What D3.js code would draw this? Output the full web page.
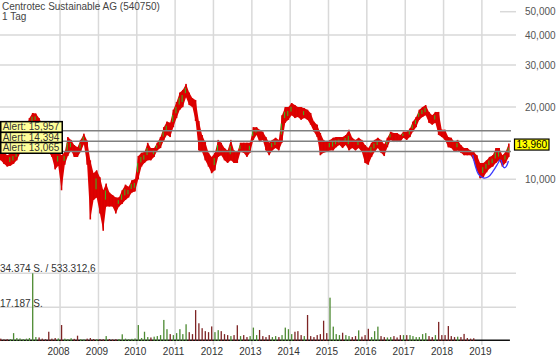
<!DOCTYPE html>
<html>
<head>
<meta charset="utf-8">
<script src="https://cdn.jsdelivr.net/npm/d3@7"></script>
<style>
  body { margin: 0; background: #fff; }
  svg { display: block; font-family: "Liberation Sans", Arial, sans-serif; }
</style>
</head>
<body>
<div id="chart"></div>
<script>
// ===== data (monthly, Jun 2006 - Sep 2019) =====
var priceHigh = [
  13.6, 13.0, 12.6, 12.8, 12.9, 13.4, 14.4,                          // 2006 Jun-Dec
  15.5, 16.5, 18.0, 18.9, 18.8, 18.0, 17.0, 15.8, 14.8, 13.6, 13.0, 13.0, // 2007
  12.6, 13.0, 15.0, 14.6, 13.9, 13.6, 14.6, 15.5, 14.5, 12.0, 10.6, 10.9, // 2008
  10.2, 9.0, 9.6, 8.8, 8.6, 8.4, 8.4, 9.0, 9.5, 9.3, 9.9, 10.0,        // 2009
  12.5, 12.9, 13.0, 14.2, 13.5, 13.5, 14.2, 15.0, 16.5, 17.4, 17.2, 19.5, // 2010
  21.0, 23.0, 23.6, 25.0, 23.0, 21.8, 21.4, 17.5, 15.3, 14.3, 12.9, 12.4, // 2011
  12.9, 14.6, 14.2, 13.5, 13.2, 14.6, 13.2, 13.0, 14.2, 14.2, 14.2, 14.2, // 2012
  16.5, 16.5, 16.1, 15.8, 15.0, 14.2, 14.6, 14.9, 14.6, 18.5, 20.0, 20.0, // 2013
  20.8, 20.4, 20.0, 20.0, 19.8, 19.5, 18.9, 17.4, 16.9, 15.6, 14.6, 14.3, // 2014
  14.6, 14.9, 15.0, 15.0, 15.0, 15.3, 16.1, 14.9, 14.6, 14.9, 14.6, 13.9, // 2015
  13.5, 14.2, 14.6, 14.9, 14.6, 14.0, 14.9, 15.8, 15.6, 15.6, 15.3, 15.8, // 2016
  15.8, 16.3, 17.4, 18.2, 19.5, 20.0, 20.4, 19.1, 18.5, 19.1, 19.1, 16.1, // 2017
  16.1, 15.0, 14.9, 14.3, 14.6, 13.9, 13.5, 13.5, 13.2, 13.0, 12.6, 11.7, // 2018
  11.7, 12.0, 12.4, 12.6, 13.5, 13.5, 12.6, 13.0, 14.1                  // 2019 Jan-Sep
];
var priceLow = [
  12.0, 11.6, 11.3, 11.4, 11.6, 12.0, 12.8,
  13.5, 14.5, 15.5, 16.8, 17.2, 16.0, 15.0, 13.8, 13.0, 12.4, 11.0, 11.4,
  9.0, 11.5, 12.5, 13.2, 12.4, 12.4, 13.0, 14.0, 11.5, 6.8, 8.2, 8.4,
  7.2, 6.1, 7.7, 7.7, 7.7, 7.2, 7.7, 7.9, 8.2, 8.4, 8.8, 8.9,
  10.0, 11.3, 11.7, 12.0, 12.0, 12.4, 13.2, 13.5, 14.5, 15.3, 15.0, 16.5,
  18.0, 19.5, 20.0, 22.0, 20.4, 20.0, 17.5, 13.2, 13.0, 12.0, 11.3, 10.6,
  10.9, 12.4, 12.6, 12.0, 11.7, 12.0, 11.7, 11.7, 13.0, 12.9, 12.4, 12.9,
  14.6, 15.3, 14.3, 14.6, 13.2, 12.6, 13.2, 13.5, 13.2, 14.2, 17.2, 17.7,
  18.5, 18.0, 18.2, 17.7, 18.0, 17.7, 16.9, 15.8, 15.0, 12.6, 12.9, 13.0,
  13.2, 13.2, 13.6, 13.9, 13.5, 13.9, 13.2, 13.5, 13.2, 13.5, 13.0, 11.7,
  11.5, 12.4, 13.0, 13.5, 12.9, 12.5, 13.6, 14.6, 14.3, 14.3, 14.3, 14.9,
  14.6, 15.0, 15.8, 16.5, 17.7, 18.2, 18.5, 17.2, 16.9, 17.2, 15.3, 15.0,
  14.6, 13.6, 13.5, 13.0, 13.2, 12.9, 12.6, 12.6, 12.6, 12.0, 10.9, 10.1,
  10.2, 10.7, 11.1, 11.3, 11.7, 12.0, 11.3, 11.7, 12.4
];
// highest daily volume per month (shares)
var volume = [
  1200, 800, 900, 1000, 4000, 1500, 1300,
  1000, 1200, 1500, 34374, 2000, 1800, 1200, 900, 4700, 1200, 1500, 1300,
  8100, 1200, 1000, 1400, 1100, 2700, 900, 800, 1200, 1500, 1000, 900,
  1000, 900, 2500, 1000, 800, 900, 1000, 3400, 1200, 900, 1100, 1300,
  8100, 1500, 4700, 2000, 1800, 2200, 2500, 3000, 10700, 6000, 3500, 3000,
  4000, 6000, 3500, 8500, 4500, 3500, 15700, 9000, 6500, 5000, 4500, 7400,
  4500, 5500, 5000, 3500, 3000, 2500, 3000, 8000, 2500, 3000, 2000, 2500,
  6800, 3000, 5600, 2500, 2000, 3000, 2000, 2500, 2000, 3000, 6800, 6000,
  3500, 4700, 5000, 3000, 2500, 13200, 2500, 2000, 3000, 3500, 10300, 4000,
  22000, 7300, 3500, 3000, 4200, 3000, 2500, 2000, 2500, 5400, 2200, 3000,
  6200, 2000, 5000, 7300, 2500, 2000, 1800, 2000, 2500, 1800, 3000, 3000,
  3000, 3000, 2500, 2000, 2000, 3500, 4000, 2500, 2000, 3000, 9700, 3000,
  3000, 7600, 2500, 2000, 2200, 2000, 3600, 1500, 1200, 1400, 0, 0,
  0, 0, 0, 0, 0, 0, 0, 0, 0
];
var yearTicks = [2008, 2009, 2010, 2011, 2012, 2013, 2014, 2015, 2016, 2017, 2018, 2019];
var priceTicks = [10, 20, 30, 40, 50];
var alerts = [15.957, 14.394, 13.065];
var lastPrice = 13.96;
// cup and handle drawing (date, price)
var cupPoints = [
  ["2018-10-06", 12.63], ["2018-10-28", 11.47], ["2018-11-29", 10.52], ["2019-01-15", 10.13],
  ["2019-03-04", 10.25], ["2019-04-21", 10.86], ["2019-05-29", 11.55], ["2019-06-24", 12.12]
];
var handlePoints = [
  ["2019-07-03", 12.04], ["2019-08-01", 11.18], ["2019-08-20", 11.29], ["2019-09-11", 11.92]
];
var volMax = 34374;

// ===== setup =====
var width = 560, height = 362;
var plotRight = 516;
var fmt = function(v) { return d3.format(",.3f")(v).replace(".", ","); };

var svg = d3.select("#chart").append("svg")
  .attr("width", width)
  .attr("height", height);

var x = d3.scaleTime()
  .domain([new Date(2006, 5, 8), new Date(2019, 10, 22)])
  .range([0, plotRight]);
var y = d3.scaleLog()
  .domain([10, 50])
  .range([179.3, 11.7]);
var yVol = d3.scaleLinear()
  .domain([0, volMax])
  .range([341, 273.3]);

var months = priceHigh.map(function(d, i) { return new Date(2006, 5 + i, 15); });
var idx = d3.range(priceHigh.length);
var parse = d3.timeParse("%Y-%m-%d");

// ===== grid =====
var grid = svg.append("g").attr("stroke", "#d9d9d9").attr("stroke-width", 1.5);
grid.selectAll(".vg").data(yearTicks).enter().append("line")
  .attr("x1", d => x(new Date(d, 0, 1))).attr("x2", d => x(new Date(d, 0, 1)))
  .attr("y1", 0).attr("y2", 345);
grid.selectAll(".hg").data(priceTicks).enter().append("line")
  .attr("x1", d => d == 50 ? 500 : 0).attr("x2", plotRight)
  .attr("y1", d => y(d)).attr("y2", d => y(d));
grid.selectAll(".vol").data([volMax / 2, volMax]).enter().append("line")
  .attr("x1", 0).attr("x2", plotRight)
  .attr("y1", d => yVol(d)).attr("y2", d => yVol(d));

// ===== axes =====
var rightAxis = d3.axisRight(y).tickValues(priceTicks).tickFormat(fmt).tickSize(0).tickPadding(9);
var ga = svg.append("g").attr("transform", "translate(" + plotRight + ",0)").call(rightAxis);
ga.select(".domain").remove();
ga.selectAll("text").attr("fill", "#555").style("font-size", "10px").style("font-family", "Liberation Sans, Arial, sans-serif");

var bottomAxis = d3.axisBottom(x)
  .tickValues(yearTicks.map(d => new Date(d, 0, 1)))
  .tickFormat(d3.timeFormat("%Y")).tickSize(0).tickPadding(3);
var gb = svg.append("g").attr("transform", "translate(-2,345)").call(bottomAxis);
gb.select(".domain").remove();
gb.selectAll("text").attr("fill", "#333").style("font-size", "10px").style("font-family", "Liberation Sans, Arial, sans-serif");

// ===== volume =====
var barStep = x(months[1]) - x(months[0]);
function rising(i) {
  if (i == 0) return false;
  return (priceHigh[i] + priceLow[i]) > (priceHigh[i - 1] + priceLow[i - 1]);
}
svg.append("line")
  .attr("x1", 0).attr("x2", x(new Date(2019, 8, 25)))
  .attr("y1", 340.3).attr("y2", 340.3)
  .attr("stroke", "#111").attr("stroke-width", 1.5);
svg.append("g").selectAll("rect").data(volume).enter().append("rect")
  .attr("x", (d, i) => x(months[i]) - 0.6)
  .attr("width", 1.3)
  .attr("y", d => yVol(d))
  .attr("height", d => 341 - yVol(d))
  .attr("fill", (d, i) => rising(i) ? "#4d8a32" : "#7d2424");

svg.append("text").attr("x", 0).attr("y", 271.5)
  .attr("font-size", 10).attr("fill", "#333").text("34.374 S. / 533.312,6");
svg.append("text").attr("x", 0).attr("y", 306.5)
  .attr("font-size", 10).attr("fill", "#333").text("17.187 S.");

// ===== price band + bars =====
var band = d3.area()
  .x(i => x(months[i]))
  .y0(i => y(priceLow[i]))
  .y1(i => y(priceHigh[i]));
svg.append("path").attr("d", band(idx)).attr("fill", "#e00000");

var bars = svg.append("g");
bars.selectAll(".bar").data(idx).enter().append("rect")
  .attr("x", i => x(months[i]) - 0.8)
  .attr("width", 1.6)
  .attr("y", i => y(priceHigh[i]))
  .attr("height", i => y(priceLow[i]) - y(priceHigh[i]))
  .attr("fill", "#d80000");
bars.selectAll(".up").data(idx.filter(rising)).enter().append("rect")
  .attr("x", i => x(months[i]) - 1.2)
  .attr("width", 1.1)
  .attr("y", i => y(priceHigh[i]) + (y(priceLow[i]) - y(priceHigh[i])) * 0.3)
  .attr("height", i => (y(priceLow[i]) - y(priceHigh[i])) * 0.4)
  .attr("fill", "#3fae1e");

// ===== alerts =====
svg.append("g").selectAll("line").data(alerts).enter().append("line")
  .attr("x1", 0).attr("x2", 511)
  .attr("y1", d => y(d)).attr("y2", d => y(d))
  .attr("stroke", "#808080").attr("stroke-width", 1.5);

var ab = svg.append("g").selectAll("g").data(alerts).enter().append("g");
ab.append("rect")
  .attr("x", 0.75).attr("width", 61.5)
  .attr("y", d => y(d) - 9).attr("height", 10.8)
  .attr("fill", "#ffff99").attr("stroke", "#000").attr("stroke-width", 1.5);
ab.append("text")
  .attr("x", 2.7).attr("y", d => y(d) - 0.3)
  .attr("font-size", 10).attr("fill", "#333")
  .text(d => "Alert: " + fmt(d));

// ===== cup and handle =====
var line = d3.line()
  .x(d => x(parse(d[0])))
  .y(d => y(d[1]))
  .curve(d3.curveCatmullRom);
[cupPoints, handlePoints].forEach(function(pts) {
  svg.append("path").attr("d", line(pts))
    .attr("fill", "none").attr("stroke", "#3a3aff").attr("stroke-width", 1.3);
});

// ===== last price =====
svg.append("rect")
  .attr("x", 514.5).attr("width", 34.5)
  .attr("y", y(lastPrice) - 5.5).attr("height", 11)
  .attr("fill", "#ffff00").attr("stroke", "#000").attr("stroke-width", 1.2);
svg.append("text")
  .attr("x", 516.5).attr("y", y(lastPrice) + 3.6)
  .attr("font-size", 10).attr("fill", "#000").text(fmt(lastPrice));

// ===== title =====
svg.append("text").attr("x", 2).attr("y", 9.5)
  .attr("font-size", 10).attr("fill", "#444").text("Centrotec Sustainable AG (540750)");
svg.append("text").attr("x", 2).attr("y", 20)
  .attr("font-size", 10).attr("fill", "#444").text("1 Tag");
</script>
</body>
</html>
